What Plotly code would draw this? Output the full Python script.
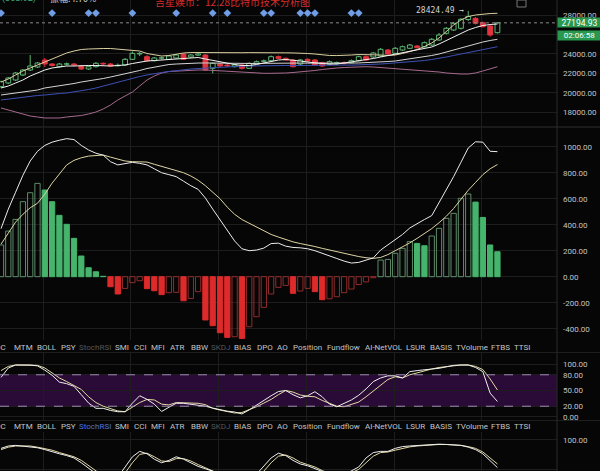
import plotly.graph_objects as go

# ---------------- data ----------------
N = 69
X = list(range(N))

OPEN = [20629, 21010, 21318, 21832, 22346, 22654, 23374, 22963, 22685, 22950,
        22963, 22757, 22449, 22685, 23035, 22963, 22780, 22860, 23446, 24000,
        23713, 23302, 23570, 23446, 23580, 23991, 23683, 23880, 23888, 22521,
        22963, 22860, 22685, 22860, 22521, 23035, 23240, 23302, 23713, 23549,
        23374, 22963, 23446, 23374, 23096, 22963, 23060, 23100, 23096, 23302,
        23713, 23683, 23785, 24402, 24063, 24402, 24577, 24813, 24741, 24916,
        25430, 26119, 26458, 26633, 27537, 27661, 27208, 26869, 26182]
HIGH = [21246, 21626, 22140, 22449, 23888, 23168, 23580, 23066, 23066, 23117,
        23066, 22860, 22788, 23168, 23117, 23066, 23014, 23580, 24248, 24196,
        23888, 23683, 23734, 23888, 23991, 24094, 23991, 24196, 23991, 23117,
        23066, 22963, 22963, 22963, 23117, 23322, 23425, 23837, 23837, 23631,
        23477, 23477, 23549, 23477, 23199, 23322, 23220, 23220, 23425, 23837,
        23837, 24196, 24608, 24505, 24710, 24865, 25019, 24916, 25276, 25636,
        26150, 26766, 27280, 27692, 28424.49, 27794, 27332, 27023, 27280]
LOW = [20526, 20907, 21215, 21729, 22243, 22552, 22654, 22706, 22603, 22809,
       22757, 22346, 22346, 22603, 22860, 22654, 22706, 22757, 23374, 23785,
       23220, 23220, 23425, 23374, 23528, 23374, 23580, 23785, 22243, 22007,
       22654, 22654, 22603, 22397, 22449, 22963, 23117, 23220, 23477, 23271,
       22603, 22860, 23168, 22757, 22654, 22860, 22911, 22911, 23014, 23220,
       23271, 23580, 23683, 23888, 23991, 24299, 24505, 24556, 24659, 24813,
       25327, 25995, 26355, 26509, 27383, 27023, 26715, 25769, 26100]
CLOSE = [21143, 21524, 22038, 22346, 22757, 23066, 22963, 22809, 22963, 22980,
         22860, 22449, 22685, 23035, 22963, 22757, 22830, 23446, 24063, 24060,
         23302, 23580, 23600, 23785, 23888, 23446, 23888, 24000, 22346, 23035,
         22757, 22757, 22860, 22521, 23035, 23199, 23290, 23713, 23549, 23374,
         22685, 23374, 23271, 22860, 22757, 23199, 23100, 23060, 23302, 23713,
         23374, 24094, 24474, 23991, 24577, 24741, 24916, 24639, 25152, 25502,
         25944, 26633, 27147, 27558, 27846, 27147, 26797, 25944, 27194.93]

BOLL_UP = [21112, 21421, 21832, 22243, 22552, 22860, 23168, 23477, 23785, 24094,
           24299, 24453, 24505, 24556, 24556, 24556, 24505, 24453, 24402, 24299,
           24042, 23888, 23785, 23837, 23991, 24094, 24145, 24130, 24125, 24140,
           24150, 24140, 24125, 24120, 24130, 24140, 24135, 24125, 24120, 24110,
           24100, 24094, 24042, 23991, 23888, 23837, 23830, 23837, 23888, 23939,
           23939, 23939, 23888, 23837, 23888, 24042, 24248, 24453, 24762, 25122,
           25636, 26355, 26972, 27486, 27846, 28000, 28103, 28154, 28175]
BOLL_MID = [19776, 19879, 19982, 20084, 20187, 20290, 20496, 20598, 20701, 20804,
            20958, 21112, 21215, 21318, 21472, 21626, 21781, 21935, 22089, 22295,
            22500, 22654, 22809, 22911, 22963, 23014, 23045, 23060, 23070, 23050,
            23040, 23030, 23020, 23010, 23000, 23010, 23030, 23050, 23070, 23080,
            23070, 23060, 23050, 23040, 23030, 23030, 23040, 23050, 23060, 23070,
            23090, 23117, 23168, 23220, 23271, 23374, 23477, 23580, 23683, 23837,
            23991, 24196, 24402, 24659, 24865, 25070, 25224, 25379, 25502]
BOLL_DN = [18440, 18234, 18028, 17823, 17617, 17514, 17412, 17412, 17412, 17514,
           17566, 17668, 17823, 18028, 18337, 18748, 19262, 19673, 20084, 20701,
           21318, 21729, 22038, 22192, 22243, 22295, 22325, 22346, 22346, 22295,
           22243, 22192, 22140, 22089, 22038, 22007, 22007, 22007, 22007, 22038,
           22089, 22140, 22192, 22295, 22397, 22500, 22552, 22603, 22654, 22675,
           22685, 22654, 22603, 22552, 22521, 22469, 22418, 22367, 22315, 22243,
           22140, 22038, 21966, 21935, 21935, 22038, 22243, 22449, 22685]
MA_FAST = [20496, 20701, 21010, 21318, 21729, 22038, 22346, 22552, 22654, 22757,
           22757, 22809, 22809, 22809, 22757, 22757, 22809, 22860, 23014, 23168,
           23271, 23322, 23374, 23477, 23528, 23580, 23631, 23631, 23477, 23322,
           23168, 23014, 22911, 22809, 22809, 22911, 23066, 23220, 23374, 23425,
           23374, 23271, 23168, 23066, 23014, 22963, 22963, 23066, 23168, 23271,
           23374, 23528, 23683, 23837, 23991, 24145, 24299, 24402, 24556, 24710,
           25019, 25379, 25790, 26150, 26458, 26715, 26921, 27023, 27075]
MA_SLOW = [19262, 19364, 19468, 19570, 19673, 19725, 19776, 19879, 19930, 19982,
           20084, 20187, 20341, 20496, 20701, 20907, 21112, 21318, 21524, 21678,
           21832, 21986, 22089, 22192, 22295, 22397, 22449, 22500, 22552, 22603,
           22654, 22685, 22706, 22737, 22757, 22778, 22790, 22780, 22800, 22810,
           22800, 22820, 22830, 22820, 22840, 22850, 22840, 22860, 22850, 22870,
           22860, 22911, 22963, 23014, 23066, 23117, 23168, 23220, 23322, 23425,
           23528, 23683, 23837, 23991, 24145, 24299, 24453, 24608, 24741]

SIGNAL_IDX = [0, 7, 12, 13, 18, 24, 29, 31, 36, 37, 41, 42, 43, 48, 49]
SIGNAL_LEVEL = 28200

LAST_PRICE = 27194.93
HIGH_PRICE = 28424.49
HIGH_IDX = 64
COUNTDOWN = "02:06:58"

MACD_HIST = [244, 351, 441, 577, 646, 718, 667, 577, 472, 403,
             295, 159, 69, 38, 3, -77, -133, -90, -46, -31,
             -92, -108, -138, -123, -120, -185, -167, -115, -333, -377,
             -431, -467, -462, -475, -385, -308, -236, -133, -82, -67,
             -128, -110, -90, -115, -177, -170, -154, -123, -95, -60,
             -40, -8, 128, 133, 180, 218, 270, 256, 238, 313,
             372, 449, 487, 603, 636, 574, 456, 244, 192]
MACD_DIF = [370, 520, 650, 780, 890, 965, 1010, 1035, 1050, 1062,
            1055, 1010, 975, 950, 935, 885, 860, 870, 880, 872,
            860, 830, 800, 785, 770, 735, 700, 672, 605, 520,
            440, 350, 275, 215, 200, 205, 220, 255, 258, 235,
            225, 222, 215, 200, 182, 160, 140, 120, 105, 110,
            125, 145, 205, 245, 280, 325, 375, 410, 440, 470,
            570, 660, 770, 880, 990, 1038, 1035, 965, 962]
MACD_DEA = [250, 340, 420, 480, 530, 565, 635, 720, 790, 860,
            895, 915, 928, 933, 936, 920, 905, 890, 885, 885,
            882, 865, 850, 835, 818, 800, 775, 742, 700, 650,
            600, 535, 480, 440, 410, 380, 355, 325, 305, 285,
            268, 255, 245, 232, 218, 205, 192, 178, 166, 155,
            146, 141, 148, 170, 200, 228, 260, 295, 330, 370,
            415, 465, 525, 595, 665, 725, 785, 830, 863]

KDJ_K = [75, 93, 98.7, 98.7, 98.7, 97, 89, 79, 66, 63,
         58, 42, 26, 16, 16, 12, 9.5, 9.5, 26, 40,
         33, 24, 10, 18, 25.6, 25.6, 24, 22.5, 20, 16.5,
         13, 10.5, 9, 5.2, 13, 22, 32, 40, 48, 50,
         42, 36, 40, 47.7, 38, 24, 19, 26, 32, 41,
         53, 67, 74, 78, 78, 74, 86, 88, 90, 91,
         92.4, 95, 98, 98.7, 98.7, 94, 86, 45, 29]
KDJ_D = [88, 96, 98.7, 98.7, 98.7, 98, 93, 84, 74, 67,
         60, 52, 38, 27, 20, 16, 11, 9.5, 18, 27,
         33, 32, 24, 22.5, 27, 27, 26, 25.6, 23, 16,
         12.7, 9.5, 7, 8, 13, 19, 26, 33, 42, 50,
         47, 41.4, 39, 38, 31, 25.6, 20, 19, 23, 28,
         38, 49, 61, 71, 76.3, 74, 80, 84, 88, 91,
         94, 96, 98, 98.7, 98.7, 96, 90, 72, 51]

SRSI_K = [86, 90, 91, 90, 89, 87, 84, 80, 77, 74,
          70, 62, 52, 42, 35, 30, 38, 55, 72, 81,
          77, 68, 62, 66, 72, 68, 62, 56, 52, 48,
          40, 33, 28, 26, 32, 43, 56, 70, 78, 74,
          66, 60, 57, 52, 45, 40, 38, 42, 48, 55,
          70, 79, 81, 81, 86, 89, 90, 91, 92, 93,
          93, 92.5, 92, 91, 88, 84, 77, 65, 54]
SRSI_D = [84, 88, 90, 90.5, 90, 88, 86, 83, 79, 76,
          72, 66, 57, 47, 40, 34, 33, 45, 62, 76,
          78, 72, 65, 64, 69, 69, 65, 59, 54, 50,
          44, 37, 31, 27, 28, 36, 48, 62, 73, 75,
          70, 63, 59, 55, 49, 43, 40, 40, 45, 51,
          62, 73, 79, 80, 83, 86, 88.5, 90, 91, 92,
          92.5, 92.5, 92, 91, 89, 86, 80, 70, 60]

PRICE_TICKS = [18000, 20000, 22000, 24000, 26000, 28000]
PRICE_HIDDEN = [26000]          # label sits under the countdown box
MACD_TICKS = [-400, -200, 0, 200, 400, 600, 800, 1000]
KDJ_TICKS = [0, 20, 50, 80, 100]
SRSI_TICKS = [50, 100]
BAND = [20, 80]

TABS = ["ROC", "MTM", "BOLL", "PSY", "StochRSI", "SMI", "CCI", "MFI", "ATR", "BBW",
        "SKDJ", "BIAS", "DPO", "AO", "Position", "Fundflow", "AI-NetVOL", "LSUR",
        "BASIS", "TVolume", "FTBS", "TTSI"]
TITLE = "吉星娱币：12.28比特币技术分析图"
HEADER_LEFT = "(368.92)"
HEADER_AMP = "振幅:4.70%"

# ---------------- geometry / style ----------------
FIG_W, FIG_H = 600, 471
PLOT_W = 557
XR = [-0.137, 76.16]
GRID_X = [5.8, 17.8, 29.8, 41.85, 53.95, 65.85]
TAB_CX = [8, 23.5, 47, 68.5, 95.5, 122, 141, 158, 177, 199, 220.5, 242.5, 264.5,
          282.5, 307, 343.5, 383.5, 415.5, 440.5, 471.5, 500.5, 522]

BG = "#060606"
GRID = "#1d1d1d"
TXT = "#c4c4c4"
C_UP = "#5cb872"
C_DN = "#e0343e"
MG_FILL = "#46b46c"
MG_HOLLOW = "#5e8c69"
MR_FILL = "#dd2a2a"
MR_HOLLOW = "#902c2c"


def px_x(p):
    return p / PLOT_W


def px_y(p):
    return 1 - p / FIG_H


fig = go.Figure()

# ---- price candles (hollow up, filled down) ----
up = [c >= o for o, c in zip(OPEN, CLOSE)]
body_base = [min(o, c) for o, c in zip(OPEN, CLOSE)]
body_h = [max(abs(c - o), 12) for o, c in zip(OPEN, CLOSE)]
fig.add_trace(go.Bar(
    x=X, y=body_h, base=body_base, width=0.66, xaxis="x", yaxis="y",
    marker=dict(color=["rgba(0,0,0,0)" if u else C_DN for u in up],
                line=dict(color=[C_UP if u else C_DN for u in up], width=1)),
    hoverinfo="skip"))
for want, col in ((True, C_UP), (False, C_DN)):
    wx, wy = [], []
    for i in X:
        if up[i] != want:
            continue
        top = max(OPEN[i], CLOSE[i])
        bot = min(OPEN[i], CLOSE[i])
        wx += [i, i, None, i, i, None]
        wy += [HIGH[i], top, None, bot, LOW[i], None]
    fig.add_trace(go.Scatter(x=wx, y=wy, mode="lines", xaxis="x", yaxis="y",
                             line=dict(color=col, width=1), hoverinfo="skip"))

for series, col in ((BOLL_DN, "#a66a8e"), (MA_SLOW, "#3c50b4"),
                    (BOLL_MID, "#d4d4d4"), (BOLL_UP, "#d9cea0"),
                    (MA_FAST, "#f2f2f2")):
    fig.add_trace(go.Scatter(x=X, y=series, mode="lines", xaxis="x", yaxis="y",
                             line=dict(color=col, width=1), hoverinfo="skip"))

fig.add_trace(go.Scatter(x=SIGNAL_IDX, y=[SIGNAL_LEVEL] * len(SIGNAL_IDX), mode="markers",
                         xaxis="x", yaxis="y",
                         marker=dict(symbol="diamond", size=6, color="#6f9de6"),
                         hoverinfo="skip"))

# ---- MACD ----
mfill, mline = [], []
for i, v in enumerate(MACD_HIST):
    prev = MACD_HIST[i - 1] if i > 0 else v - 1
    if v >= 0:
        if v >= prev:
            mfill.append("rgba(0,0,0,0)"); mline.append(MG_HOLLOW)
        else:
            mfill.append(MG_FILL); mline.append(MG_FILL)
    else:
        if v < prev:
            mfill.append(MR_FILL); mline.append(MR_FILL)
        else:
            mfill.append("rgba(0,0,0,0)"); mline.append(MR_HOLLOW)
fig.add_trace(go.Bar(x=X, y=MACD_HIST, width=0.72, xaxis="x2", yaxis="y2",
                     marker=dict(color=mfill, line=dict(color=mline, width=1)),
                     hoverinfo="skip"))
fig.add_trace(go.Scatter(x=X, y=MACD_DEA, mode="lines", xaxis="x2", yaxis="y2",
                         line=dict(color="#ddd5a4", width=1), hoverinfo="skip"))
fig.add_trace(go.Scatter(x=X, y=MACD_DIF, mode="lines", xaxis="x2", yaxis="y2",
                         line=dict(color="#ececec", width=1), hoverinfo="skip"))

# ---- KDJ-like panel ----
fig.add_trace(go.Scatter(x=X, y=KDJ_D, mode="lines", xaxis="x3", yaxis="y3",
                         line=dict(color="#e2d9a2", width=1), hoverinfo="skip"))
fig.add_trace(go.Scatter(x=X, y=KDJ_K, mode="lines", xaxis="x3", yaxis="y3",
                         line=dict(color="#efefef", width=1), hoverinfo="skip"))

# ---- StochRSI panel ----
fig.add_trace(go.Scatter(x=X, y=SRSI_D, mode="lines", xaxis="x4", yaxis="y4",
                         line=dict(color="#e2d9a2", width=1), hoverinfo="skip"))
fig.add_trace(go.Scatter(x=X, y=SRSI_K, mode="lines", xaxis="x4", yaxis="y4",
                         line=dict(color="#efefef", width=1), hoverinfo="skip"))

# ---------------- axes ----------------
xbase = dict(range=XR, showticklabels=False, tickvals=GRID_X, showgrid=True,
             gridcolor=GRID, gridwidth=1, zeroline=False, showline=False,
             ticks="", fixedrange=True)
tfont = dict(family="Roboto, Noto Sans, sans-serif", size=8, color=TXT)


def yax(domain, rng, ticks, anchor, hidden=()):
    return dict(domain=domain, range=rng, side="right", anchor=anchor,
                tickvals=ticks,
                ticktext=["" if t in hidden else f"{t:.2f}" for t in ticks],
                tickfont=tfont, showgrid=True, gridcolor=GRID, zeroline=False,
                showline=False, ticks="", ticklen=0, ticklabelstandoff=5,
                fixedrange=True)


fig.update_layout(
    width=FIG_W, height=FIG_H, margin=dict(l=0, r=FIG_W - PLOT_W, t=0, b=0, pad=0),
    paper_bgcolor=BG, plot_bgcolor=BG, showlegend=False, barmode="overlay",
    xaxis=dict(xbase, anchor="y"),
    xaxis2=dict(xbase, anchor="y2"),
    xaxis3=dict(xbase, anchor="y3"),
    xaxis4=dict(xbase, anchor="y4"),
    yaxis=yax([px_y(127), 1.0], [16486, 29542], PRICE_TICKS, "x", PRICE_HIDDEN),
    yaxis2=yax([px_y(340), px_y(128)], [-487, 1144], MACD_TICKS, "x2"),
    yaxis3=yax([px_y(420), px_y(353)], [-6.3, 121.6], KDJ_TICKS, "x3"),
    yaxis4=yax([0.0, px_y(432)], [48.3, 113.3], SRSI_TICKS, "x4"),
)

shapes = []
shapes.append(dict(type="rect", xref="x3 domain", x0=0, x1=1, yref="y3",
                   y0=BAND[0], y1=BAND[1], fillcolor="#2a0a36", line=dict(width=0),
                   layer="below"))
for b in BAND:
    shapes.append(dict(type="line", xref="x3 domain", x0=0, x1=1, yref="y3", y0=b, y1=b,
                       line=dict(color="#9d8cb0", width=1, dash="dash")))
for yp, col in ((127, "#2e2e2e"), (352.5, "#1e1e1e"), (420.5, "#1e1e1e")):
    shapes.append(dict(type="line", xref="paper", x0=0, x1=FIG_W / PLOT_W,
                       yref="paper", y0=px_y(yp), y1=px_y(yp),
                       line=dict(color=col, width=1)))
shapes.append(dict(type="line", xref="paper", x0=1, x1=1, yref="paper", y0=0, y1=1,
                   line=dict(color="#2a2a2a", width=1)))
shapes.append(dict(type="line", xref="paper", x0=0, x1=1, yref="y",
                   y0=LAST_PRICE, y1=LAST_PRICE,
                   line=dict(color="#8a8a8a", width=1, dash="dot")))
shapes.append(dict(type="rect", xref="paper", x0=px_x(517), x1=px_x(526),
                   yref="paper", y0=px_y(7), y1=px_y(0),
                   line=dict(color="#777777", width=1)))
fig.update_layout(shapes=shapes)

ann = []
ann.append(dict(text=TITLE, xref="paper", yref="paper", x=px_x(232), y=px_y(1.5),
                xanchor="center", yanchor="middle", showarrow=False,
                font=dict(family="Noto Sans CJK SC", size=10, color="#d62b2b")))
ann.append(dict(text=HEADER_LEFT, xref="paper", yref="paper", x=px_x(38), y=px_y(-2),
                xanchor="right", yanchor="middle", showarrow=False,
                font=dict(family="Roboto", size=9, color="#3fae7a")))
ann.append(dict(text=HEADER_AMP, xref="paper", yref="paper", x=px_x(48), y=px_y(-2),
                xanchor="left", yanchor="middle", showarrow=False,
                font=dict(family="Noto Sans CJK SC", size=9, color="#d0d0d0")))
ann.append(dict(text=f"{HIGH_PRICE:.2f} →", xref="x", yref="y", x=HIGH_IDX - 0.35,
                y=HIGH_PRICE, xanchor="right", yanchor="middle", showarrow=False,
                font=dict(family="DejaVu Sans Mono, monospace", size=8, color="#d4d4d4")))
ann.append(dict(text=f"{LAST_PRICE:.2f}", xref="paper", yref="y", x=1, y=LAST_PRICE,
                xanchor="left", yanchor="middle", showarrow=False,
                bgcolor="#29984f", width=41, height=7, borderpad=1,
                font=dict(family="Roboto", size=8.5, color="#ffffff")))
ann.append(dict(text=COUNTDOWN, xref="paper", yref="paper", x=1, y=px_y(36),
                xanchor="left", yanchor="middle", showarrow=False,
                bgcolor="#29984f", width=41, height=7, borderpad=1,
                font=dict(family="Roboto", size=8, color="#ffffff")))
for row_y, active in ((347, None), (426, "StochRSI")):
    for name, cx in zip(TABS, TAB_CX):
        col = TXT
        if name == "SKDJ" or (name == "StochRSI" and active is None):
            col = "#565656"
        if name == active:
            col = "#4f72d8"
        anchor = "right" if name == "ROC" else "center"
        ann.append(dict(text=name, xref="paper", yref="paper", x=px_x(cx), y=px_y(row_y),
                        xanchor=anchor, yanchor="middle", showarrow=False,
                        font=dict(family="Roboto", size=8, color=col)))
fig.update_layout(annotations=ann)

fig.write_html("out.html", config={"displayModeBar": False},
               post_script="document.body.style.margin='0';document.body.style.padding='0';")
